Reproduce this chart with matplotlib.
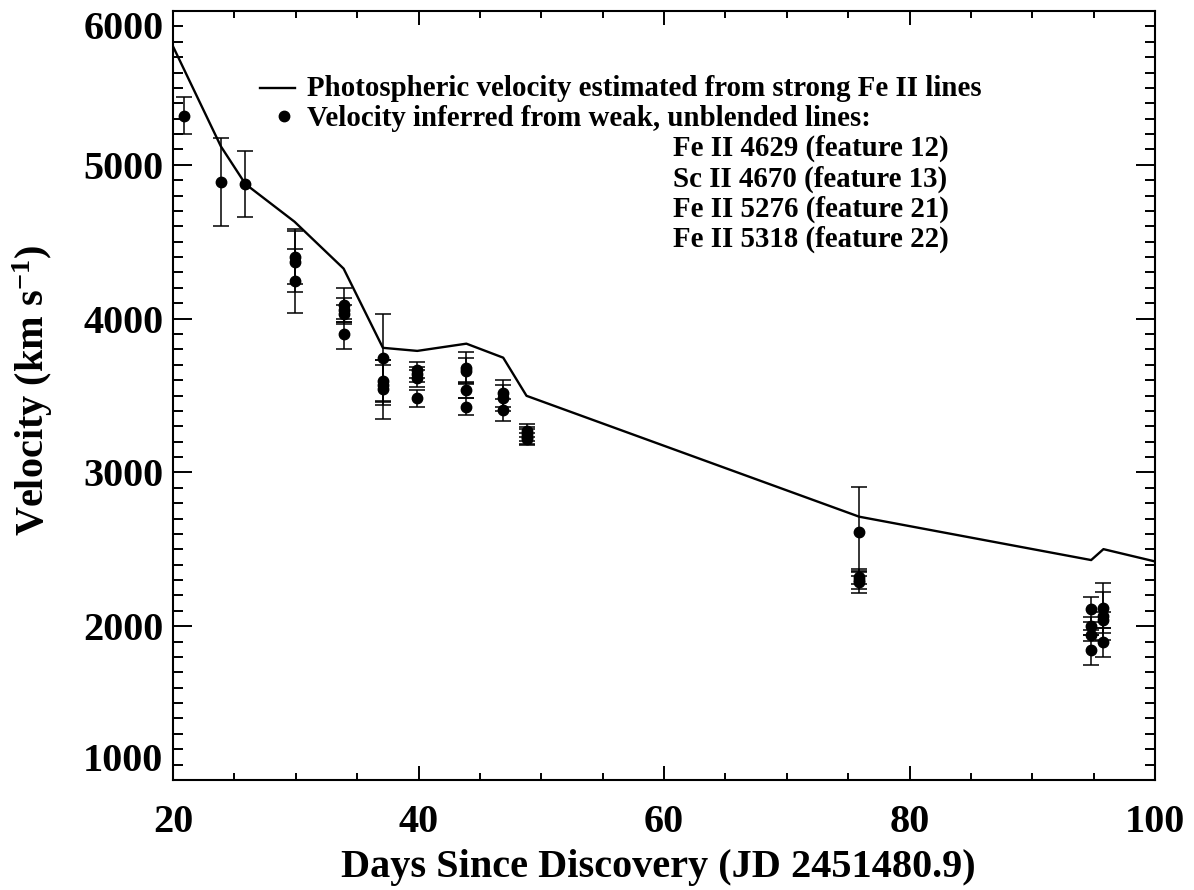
import numpy as np
import matplotlib
matplotlib.use('Agg')
import matplotlib.pyplot as plt
from matplotlib.ticker import MultipleLocator

plt.rcParams['font.family'] = 'Liberation Serif'
plt.rcParams['font.weight'] = 'bold'
plt.rcParams['mathtext.fontset'] = 'custom'
plt.rcParams['mathtext.rm'] = 'Liberation Serif:bold'
plt.rcParams['mathtext.default'] = 'rm'

#%% photospheric velocity from the strong Fe II lines
line_days = [20.0, 23.9, 25.9, 29.9, 33.9, 37.1, 39.9, 43.9, 46.9, 48.8, 75.9, 94.8, 95.8, 100.0]
line_vel = [5770, 5120, 4875, 4630, 4325, 3810, 3790, 3837, 3746, 3498, 2712, 2430, 2501, 2421]

#%% weak, unblended lines (features 12, 13, 21, 22)
pt_days = [20.9, 23.9, 25.9,
           29.9, 29.9, 29.9,
           33.9, 33.9, 33.9, 33.9,
           37.1, 37.1, 37.1, 37.1,
           39.9, 39.9, 39.9, 39.9,
           43.9, 43.9, 43.9, 43.9,
           46.9, 46.9, 46.9,
           48.8, 48.8, 48.8, 48.8,
           75.9, 75.9, 75.9, 75.9,
           94.8, 94.8, 94.8, 94.8,
           95.8, 95.8, 95.8, 95.8]
pt_vel = [5320, 4888, 4873,
          4402, 4370, 4244,
          4088, 4056, 4028, 3900,
          3746, 3594, 3568, 3540,
          3665, 3638, 3612, 3482,
          3681, 3661, 3535, 3427,
          3514, 3482, 3405,
          3272, 3252, 3232, 3215,
          2614, 2322, 2300, 2289,
          2109, 2001, 1942, 1845,
          2116, 2066, 2040, 1895]
pt_err = [122, 285, 215,
          178, 200, 210,
          110, 80, 60, 100,
          285, 135, 130, 190,
          52, 50, 55, 55,
          103, 80, 50, 55,
          86, 86, 70,
          45, 45, 50, 40,
          290, 50, 55, 70,
          83, 60, 35, 98,
          163, 154, 54, 94]

legend_lines = ['Fe II 4629 (feature 12)', 'Sc II 4670 (feature 13)',
                'Fe II 5276 (feature 21)', 'Fe II 5318 (feature 22)']

#%%
fig = plt.figure(figsize=(11.94, 8.90), dpi=100)
ax = fig.add_axes([173/1194, 110/890, 982/1194, 769/890])

ax.plot(line_days, line_vel, 'k-', lw=1.7)
ax.errorbar(pt_days, pt_vel, yerr=pt_err, fmt='o', color='k', ms=7.5,
            ecolor='k', elinewidth=1.1, capsize=5.5, capthick=1.1)

ax.set_xlim(20, 100)
ax.set_ylim(1000, 6000)
ax.xaxis.set_major_locator(MultipleLocator(20))
ax.xaxis.set_minor_locator(MultipleLocator(5))
ax.yaxis.set_major_locator(MultipleLocator(1000))
ax.yaxis.set_minor_locator(MultipleLocator(100))

ax.tick_params(axis='both', which='both', direction='in', top=True, right=True,
               width=1.4, labelsize=29)
ax.tick_params(axis='x', which='major', length=10, pad=17)
ax.tick_params(axis='x', which='minor', length=5)
ax.tick_params(axis='y', which='major', length=14, pad=7)
ax.tick_params(axis='y', which='minor', length=7)
for s in ax.spines.values():
    s.set_linewidth(1.5)

# keep the end labels inside the plot box
fig.canvas.draw()
for t in ax.yaxis.get_major_ticks():
    if abs(t.get_loc() - 1000) < 1:
        t.label1.set_va('bottom')
    elif abs(t.get_loc() - 6000) < 1:
        t.label1.set_va('top')

ax.set_xlabel('Days Since Discovery (JD 2451480.9)', fontsize=29, fontweight='bold')
ax.xaxis.set_label_coords(0.494, -0.126)
ax.xaxis.label.set_va('baseline')
ax.set_ylabel(r'Velocity (km s$^{-1}$)', fontsize=29, fontweight='bold')
ax.yaxis.set_label_coords(-0.1426, 0.506)
ax.yaxis.label.set_va('center')

# legend, drawn by hand
ax.plot([0.0886, 0.1242], [0.8999, 0.8999], 'k-', lw=1.7, transform=ax.transAxes)
ax.plot([0.1130], [0.8635], 'ko', ms=7.5, transform=ax.transAxes)
ax.text(0.1365, 0.8895, 'Photospheric velocity estimated from strong Fe II lines',
        transform=ax.transAxes, fontsize=20.8, fontweight='bold', va='baseline')
ax.text(0.1365, 0.8505, 'Velocity inferred from weak, unblended lines:',
        transform=ax.transAxes, fontsize=20.8, fontweight='bold', va='baseline')
for i, s in enumerate(legend_lines):
    ax.text(0.5092, 0.8114 - i*0.0394, s, transform=ax.transAxes,
            fontsize=20.8, fontweight='bold', va='baseline')

fig.savefig('out.png', dpi=100)
